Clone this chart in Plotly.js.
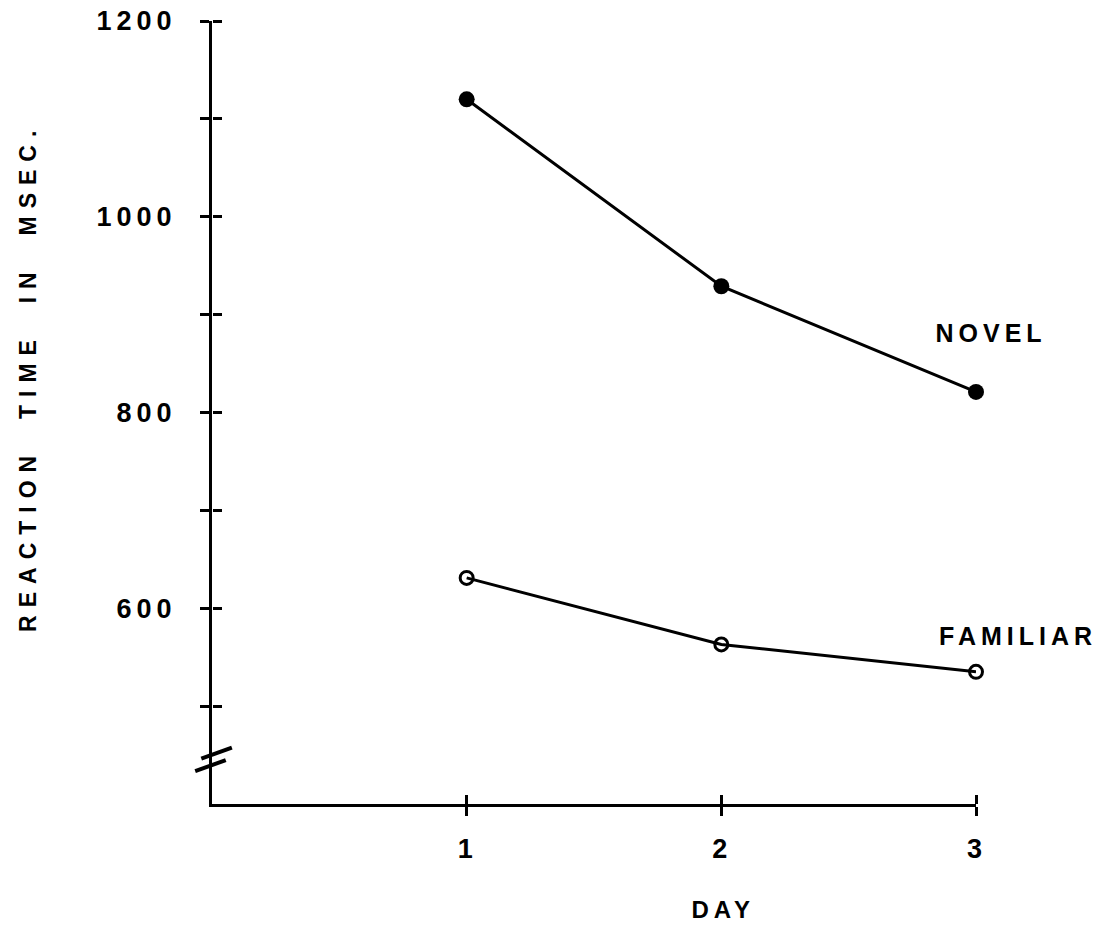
<!DOCTYPE html>
<html>
<head>
<meta charset="utf-8">
<script src="https://cdn.plot.ly/plotly-3.0.1.min.js"></script>
<style>
  html, body { margin: 0; padding: 0; background: #fff; }
  #chart { width: 1104px; height: 932px; }
  #chart svg text { letter-spacing: 3px; }
  #chart svg .ytick text { letter-spacing: 5px; }
  #chart svg .annotation-text { letter-spacing: 5px; }
  #chart svg .ytitle-anno .annotation-text { letter-spacing: 8px; }
</style>
</head>
<body>
<div id="chart"></div>
<script>
// ---- data ----
const days = [1, 2, 3];
const novelRT = [1120, 929, 821];
const familiarRT = [631, 563, 535];
const seriesNames = ['NOVEL', 'FAMILIAR'];

const xTickVals = [1, 2, 3];
const xTickText = ['1', '2', '3'];
const yTickVals = [500, 600, 700, 800, 900, 1000, 1100, 1200];
const yTickText = ['', '600', '', '800', '', '1000', '', '1200'];

const xTitle = 'DAY';
const yTitle = 'REACTION\u00A0\u00A0TIME\u00A0\u00A0IN\u00A0\u00A0MSEC.';

const FONT = 'Liberation Sans, Arial, Helvetica, sans-serif';
const INK = '#000';

const traces = [
  {
    x: days, y: novelRT, name: seriesNames[0], type: 'scatter', mode: 'lines+markers',
    line: { color: INK, width: 3 },
    marker: { symbol: 'circle', size: 16, color: INK },
    cliponaxis: false, showlegend: false, hoverinfo: 'skip'
  },
  {
    x: days, y: familiarRT, name: seriesNames[1], type: 'scatter', mode: 'lines+markers',
    line: { color: INK, width: 3 },
    marker: { symbol: 'circle-open', size: 13, color: INK, line: { color: INK, width: 3 } },
    cliponaxis: false, showlegend: false, hoverinfo: 'skip'
  },
  // carrier for the overlaid axes that draw the inner half of each crossing tick
  {
    x: days, y: familiarRT, xaxis: 'x2', yaxis: 'y2', type: 'scatter', mode: 'markers',
    marker: { color: 'rgba(0,0,0,0)', size: 1 }, showlegend: false, hoverinfo: 'skip'
  }
];

const axisCommon = {
  showgrid: false, zeroline: false,
  linecolor: INK, linewidth: 3,
  tickcolor: INK, tickwidth: 3, ticklen: 9,
  tickfont: { family: FONT, size: 27, color: INK, weight: 'bold' }
};

const layout = {
  width: 1104, height: 932,
  margin: { l: 212, r: 128, t: 21, b: 128 },
  paper_bgcolor: '#fff', plot_bgcolor: '#fff',
  showlegend: false,
  xaxis: Object.assign({}, axisCommon, {
    range: [0, 3], showline: true, ticks: 'outside',
    tickmode: 'array', tickvals: xTickVals, ticktext: xTickText,
    ticklabelstandoff: 10
  }),
  // same scale, drawn from the bottom edge upward: inner half of the x ticks
  xaxis2: Object.assign({}, axisCommon, {
    range: [0, 3], overlaying: 'x', side: 'top', anchor: 'free', position: 0,
    showline: false, ticks: 'outside',
    tickmode: 'array', tickvals: xTickVals, ticktext: xTickText, showticklabels: false
  }),
  yaxis: Object.assign({}, axisCommon, {
    range: [400, 1200], showline: true, ticks: 'outside',
    tickmode: 'array', tickvals: yTickVals, ticktext: yTickText,
    ticklabelstandoff: 18
  }),
  // same scale, drawn from the left edge rightward: inner half of the y ticks
  yaxis2: Object.assign({}, axisCommon, {
    range: [400, 1200], overlaying: 'y', side: 'right', anchor: 'free', position: 0,
    showline: false, ticks: 'outside',
    tickmode: 'array', tickvals: yTickVals, ticktext: yTickText, showticklabels: false
  }),
  annotations: [
    { text: yTitle, xref: 'paper', yref: 'paper', x: -0.24, y: 0.545, textangle: -90,
      showarrow: false, xanchor: 'center', yanchor: 'middle',
      font: { family: FONT, size: 23, color: INK, weight: 'bold' } },
    { text: xTitle, xref: 'paper', yref: 'paper', x: 0.669, y: -0.135,
      showarrow: false, xanchor: 'center', yanchor: 'middle',
      font: { family: FONT, size: 24, color: INK, weight: 'bold' } },
    { text: seriesNames[0], xref: 'paper', yref: 'paper', x: 1.02, y: 0.6015,
      showarrow: false, xanchor: 'center', yanchor: 'middle',
      font: { family: FONT, size: 25, color: INK, weight: 'bold' } },
    { text: seriesNames[1], xref: 'paper', yref: 'paper', x: 1.055, y: 0.2146,
      showarrow: false, xanchor: 'center', yanchor: 'middle',
      font: { family: FONT, size: 25, color: INK, weight: 'bold' } }
  ],
  shapes: [
    // axis-break marks on the y axis
    { type: 'line', xref: 'paper', yref: 'paper', x0: -0.022, y0: 0.042, x1: 0.018, y1: 0.056,
      line: { color: INK, width: 4 } },
    { type: 'line', xref: 'paper', yref: 'paper', x0: -0.014, y0: 0.058, x1: 0.026, y1: 0.072,
      line: { color: INK, width: 4 } }
  ]
};

Plotly.newPlot('chart', traces, layout, { staticPlot: true, displayModeBar: false }).then(function () {
  const annos = document.querySelectorAll('#chart .annotation');
  if (annos.length) annos[0].classList.add('ytitle-anno');
});
</script>
</body>
</html>
